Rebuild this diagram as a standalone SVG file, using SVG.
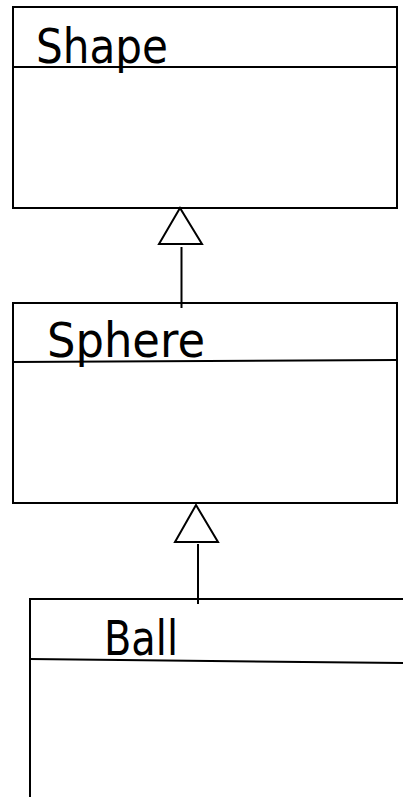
<svg xmlns="http://www.w3.org/2000/svg" width="403" height="797" viewBox="0 0 403 797">
  <style>
    .box { fill: #ffffff; stroke: #000000; stroke-width: 2; }
    .divider { fill: none; stroke: #000000; stroke-width: 2; }
    .name { font-family: "DejaVu Sans", "Liberation Sans", sans-serif; font-size: 48px; fill: #000000; }
    .edge { fill: none; stroke: #000000; stroke-width: 2; }
    .head { fill: #ffffff; stroke: #000000; stroke-width: 2; stroke-linejoin: miter; }
  </style>
  <rect width="403" height="797" fill="#ffffff"/>

  <!-- classes -->
  <g id="shape">
    <rect class="box" x="13" y="7" width="384" height="201"/>
    <line class="divider" x1="13" y1="67" x2="397" y2="67"/>
    <text class="name" x="36" y="63" textLength="132" lengthAdjust="spacingAndGlyphs">Shape</text>
  </g>

  <g id="sphere">
    <rect class="box" x="13" y="303" width="384" height="200"/>
    <line class="divider" x1="13" y1="362" x2="397" y2="360"/>
    <text class="name" x="47" y="357" textLength="158" lengthAdjust="spacingAndGlyphs">Sphere</text>
  </g>

  <g id="ball">
    <rect class="box" x="30" y="599" width="400" height="230"/>
    <line class="divider" x1="30" y1="659" x2="403" y2="663"/>
    <text class="name" x="104" y="655" textLength="74" lengthAdjust="spacingAndGlyphs">Ball</text>
  </g>

  <!-- generalization connectors -->
  <g id="connectors">
    <line class="edge" x1="181.5" y1="247" x2="181.5" y2="308"/>
    <polygon class="head" points="180,208 159,244 202,244"/>
    <line class="edge" x1="198" y1="544" x2="198" y2="604"/>
    <polygon class="head" points="196,505 175,542 218,542"/>
  </g>
</svg>
